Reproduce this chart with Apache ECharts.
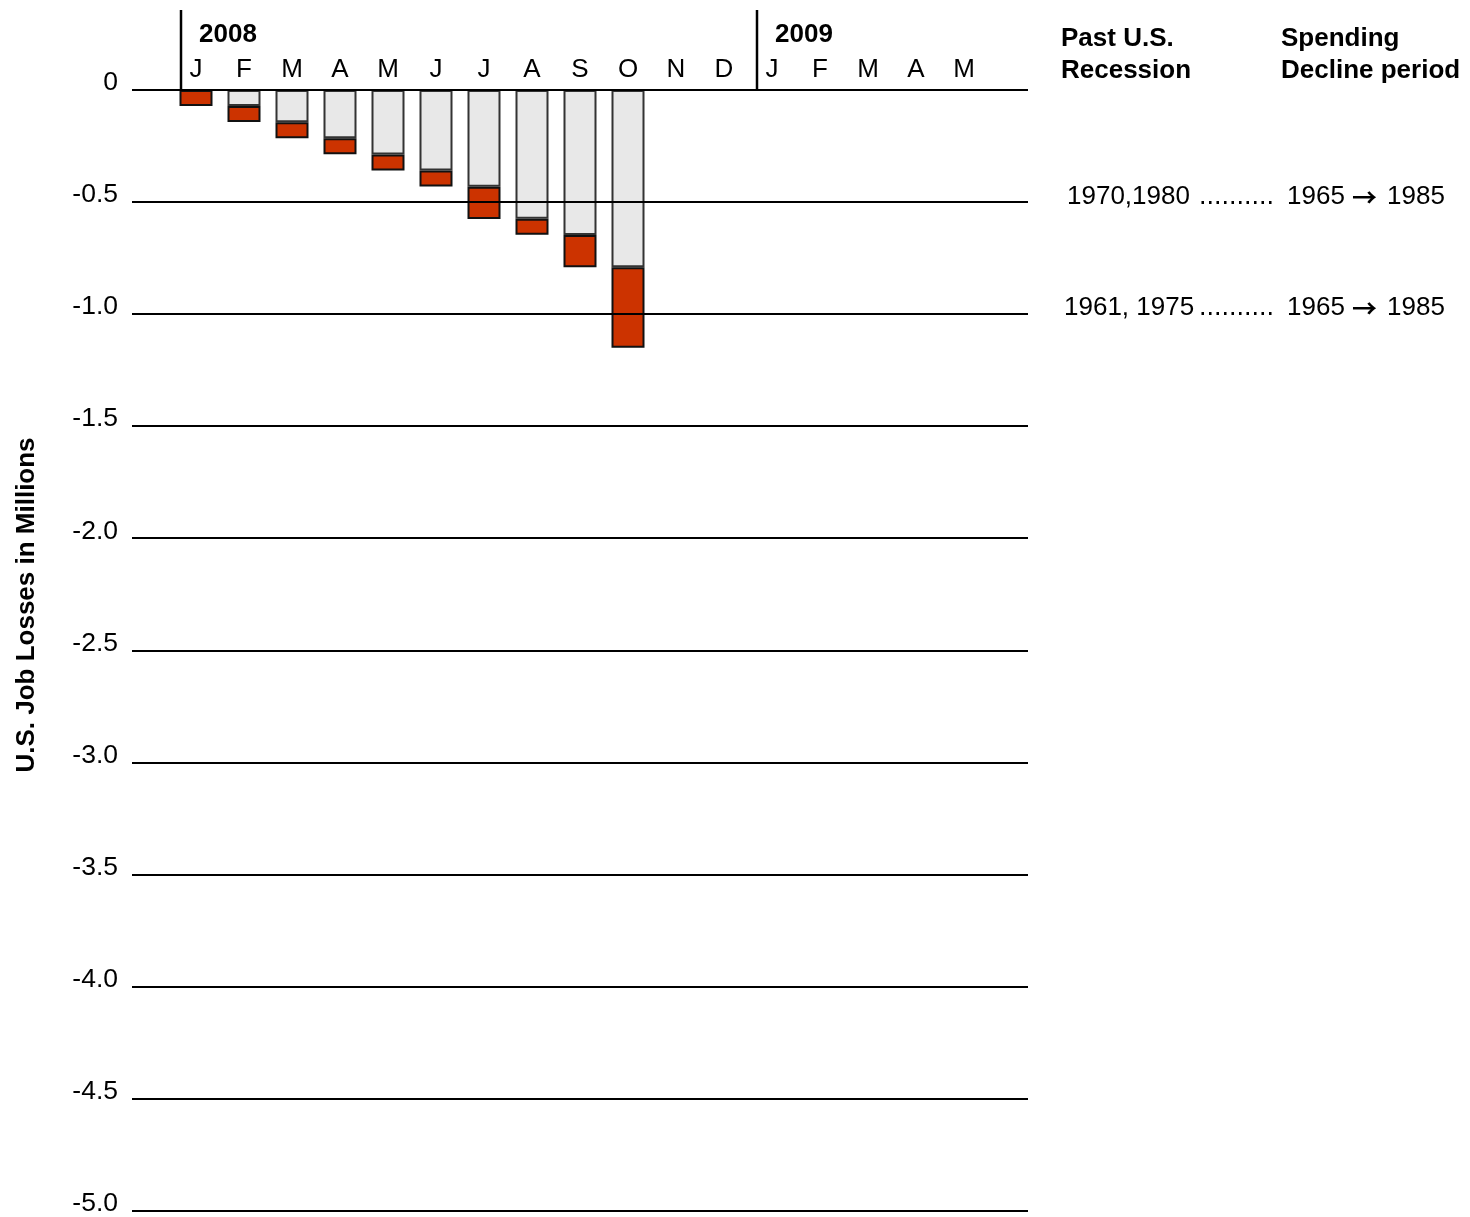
<!DOCTYPE html>
<html>
<head>
<meta charset="utf-8">
<script src="https://cdn.jsdelivr.net/npm/echarts@6/dist/echarts.min.js"></script>
<style>
html,body{margin:0;padding:0;background:#fff;overflow:hidden;}
#chart{width:1470px;height:1217px;}
</style>
</head>
<body>
<div id="chart"></div>
<script>
// ---- data ----
const months = ['J','F','M','A','M','J','J','A','S','O','N','D','J','F','M','A','M'];
// cumulative job losses before the month (millions)
const priorLosses = [0, -0.071, -0.143, -0.214, -0.286, -0.357, -0.429, -0.571, -0.643, -0.786];
// job losses in the month (millions)
const monthLosses = [-0.071, -0.071, -0.071, -0.071, -0.071, -0.071, -0.143, -0.071, -0.143, -0.357];
const yTicks = { min: -5, max: 0, step: 0.5 };
const years = ['2008', '2009'];
const tableHeaders = [['Past U.S.', 'Recession'], ['Spending', 'Decline period']];
const recessionYears = ['1970,1980', '1961, 1975'];
const spendingFrom = ['1965', '1965'];
const spendingTo = ['1985', '1985'];
const yTitle = 'U.S. Job Losses in Millions';

const FONT = "'Liberation Sans', Arial, sans-serif";
const chart = echarts.init(document.getElementById('chart'), null, {renderer: 'canvas'});

const pad = arr => arr.concat(new Array(months.length - arr.length).fill(null));

const GT = 90, GH = 1127.5;
const option = {
  backgroundColor: '#fff',
  animation: false,
  grid: [
    {left: 132, top: GT, width: 896, height: GH},
    {left: 172, top: GT, width: 816, height: GH}
  ],
  xAxis: [
    {gridIndex: 0, type: 'category', data: [''], show: false},
    {gridIndex: 1, type: 'category', data: months, position: 'top',
     axisLine: {show: false}, axisTick: {show: false},
     axisLabel: {margin: 7, fontSize: 26, color: '#000', fontFamily: FONT, interval: 0}}
  ],
  yAxis: [
    {gridIndex: 0, type: 'value', min: yTicks.min, max: yTicks.max, interval: yTicks.step, z: 10,
     axisLine: {show: false}, axisTick: {show: false},
     splitLine: {show: true, lineStyle: {color: '#000', width: 2}},
     axisLabel: {margin: 14, fontSize: 26.5, color: '#000', fontFamily: FONT,
       verticalAlign: 'bottom', lineHeight: 14,
       formatter: v => v === 0 ? '0' : v.toFixed(1)}},
    {gridIndex: 1, type: 'value', min: yTicks.min, max: yTicks.max, interval: yTicks.step, show: false,
     splitLine: {show: false}}
  ],
  series: [
    {type: 'line', xAxisIndex: 0, yAxisIndex: 0, data: [], silent: true},
    {type: 'bar', name: 'prior', xAxisIndex: 1, yAxisIndex: 1, stack: 'loss', barWidth: 33,
     data: pad(priorLosses),
     itemStyle: {color: '#e8e8e8', borderColor: '#333', borderWidth: 2}},
    {type: 'bar', name: 'month', xAxisIndex: 1, yAxisIndex: 1, stack: 'loss', barWidth: 33,
     data: pad(monthLosses),
     itemStyle: {color: '#cc3300', borderColor: '#111', borderWidth: 2}}
  ],
  graphic: []
};
chart.setOption(option);

// annotations positioned from the category axis
const g = [];
const bandW = 816 / months.length;
[0, 12].forEach((idx, i) => {
  const cx = chart.convertToPixel({xAxisIndex: 1}, idx);
  const boundary = cx - bandW / 2;
  g.push({type: 'line', shape: {x1: boundary + 9, y1: 10, x2: boundary + 9, y2: 90},
          style: {stroke: '#000', lineWidth: 2.5}, z: 20});
  g.push({type: 'text', x: boundary + 27, y: 35,
          style: {text: years[i], font: 'bold 26px ' + FONT, fill: '#000', textVerticalAlign: 'middle'}, z: 20});
});
const headerX = [1061, 1281];
tableHeaders.forEach((h, i) => {
  h.forEach((line, j) => {
    g.push({type: 'text', x: headerX[i], y: 39 + j * 32,
            style: {text: line, font: 'bold 26px ' + FONT, fill: '#000', textVerticalAlign: 'middle'}});
  });
});
const rowX = [1067, 1064];
const rowY = [197, 308];
const dotsX = 1199, fromX = 1287, arrowX = 1352, toX = 1387;
recessionYears.forEach((r, i) => {
  const base = {fill: '#000', textVerticalAlign: 'middle'};
  g.push({type: 'text', x: rowX[i], y: rowY[i], style: Object.assign({text: r, font: '26px ' + FONT}, base)});
  g.push({type: 'text', x: dotsX, y: rowY[i], style: Object.assign({text: '..........', font: '27px ' + FONT}, base)});
  g.push({type: 'text', x: fromX, y: rowY[i], style: Object.assign({text: spendingFrom[i], font: '26px ' + FONT}, base)});
  g.push({type: 'text', x: arrowX, y: rowY[i], style: Object.assign({text: '\u2192', font: 'bold 25px "Noto Sans CJK SC"'}, base)});
  g.push({type: 'text', x: toX, y: rowY[i], style: Object.assign({text: spendingTo[i], font: '26px ' + FONT}, base)});
});
g.push({type: 'text', x: 27, y: 605, rotation: Math.PI / 2,
        style: {text: yTitle, font: 'bold 26px ' + FONT, fill: '#000', textAlign: 'center', textVerticalAlign: 'middle'}});
chart.setOption({graphic: g});
</script>
</body>
</html>
